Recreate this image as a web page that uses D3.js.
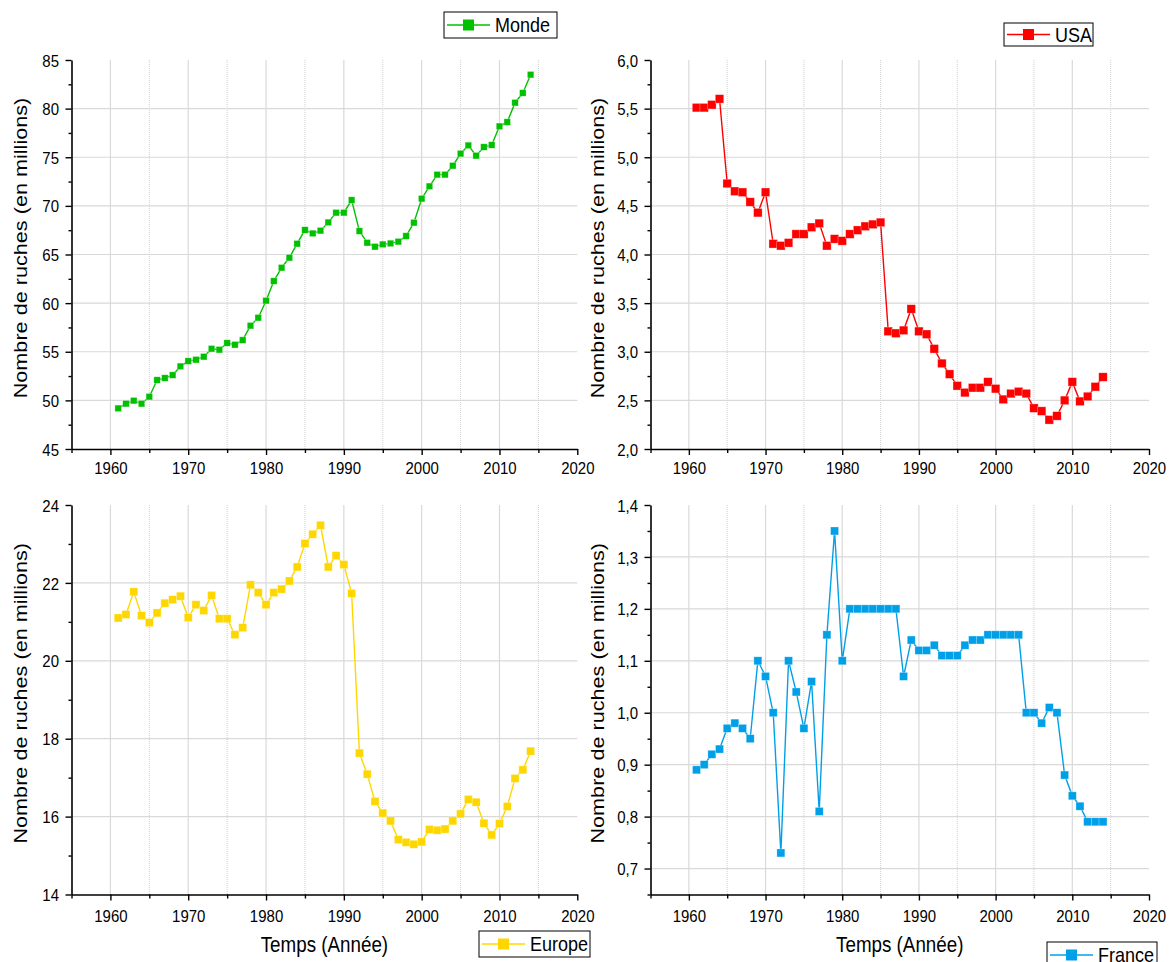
<!DOCTYPE html>
<html><head><meta charset="utf-8">
<script src="https://cdn.jsdelivr.net/npm/d3@7"></script>
<style>body{margin:0;background:#fff;}svg{display:block;font-family:"Liberation Sans",Arial,sans-serif;}</style>
</head><body>
<svg id="c" width="1174" height="962"></svg>
<script>
const years = d3.range(1961, 2015);
const monde = [49.18,49.66,49.97,49.66,50.38,52.09,52.30,52.60,53.50,54.04,54.18,54.49,55.31,55.21,55.90,55.72,56.20,57.68,58.50,60.25,62.27,63.64,64.67,66.11,67.52,67.17,67.45,68.30,69.30,69.30,70.60,67.41,66.21,65.80,66.04,66.14,66.32,66.90,68.27,70.74,72.01,73.21,73.21,74.13,75.37,76.22,75.16,76.05,76.26,78.18,78.62,80.61,81.61,83.49];
const usa = [5.51,5.51,5.54,5.60,4.73,4.65,4.64,4.54,4.43,4.64,4.11,4.09,4.12,4.21,4.21,4.28,4.32,4.09,4.16,4.14,4.21,4.25,4.29,4.31,4.33,3.21,3.19,3.22,3.44,3.21,3.18,3.03,2.88,2.77,2.65,2.58,2.63,2.63,2.69,2.62,2.51,2.57,2.59,2.57,2.42,2.39,2.30,2.34,2.50,2.69,2.49,2.54,2.64,2.74];
const europe = [21.10,21.19,21.77,21.16,20.98,21.23,21.48,21.57,21.66,21.11,21.44,21.29,21.68,21.08,21.08,20.67,20.85,21.95,21.75,21.44,21.75,21.84,22.05,22.41,23.01,23.25,23.48,22.41,22.70,22.47,21.73,17.63,17.09,16.39,16.09,15.89,15.41,15.34,15.29,15.35,15.67,15.65,15.68,15.89,16.07,16.44,16.37,15.83,15.53,15.82,16.26,16.98,17.20,17.68];
const france = [0.89,0.90,0.92,0.93,0.97,0.98,0.97,0.95,1.10,1.07,1.00,0.73,1.10,1.04,0.97,1.06,0.81,1.15,1.35,1.10,1.20,1.20,1.20,1.20,1.20,1.20,1.20,1.07,1.14,1.12,1.12,1.13,1.11,1.11,1.11,1.13,1.14,1.14,1.15,1.15,1.15,1.15,1.15,1.00,1.00,0.98,1.01,1.00,0.88,0.84,0.82,0.79,0.79,0.79];

const xTicks = [1960,1970,1980,1990,2000,2010,2020];
const xMinor = [1955,1965,1975,1985,1995,2005,2015];
const mondeTicks = [45,50,55,60,65,70,75,80,85];
const usaTicks = [2.0,2.5,3.0,3.5,4.0,4.5,5.0,5.5,6.0];
const europeTicks = [14,16,18,20,22,24];
const franceTicks = [0.7,0.8,0.9,1.0,1.1,1.2,1.3,1.4];

const yTitle = "Nombre de ruches (en millions)";
const xTitle = "Temps (Année)";

const FONT = "Liberation Sans, Arial, sans-serif";
const SY = 1.15;   // vertical text stretch seen in the reference
const svg = d3.select("#c");
const fr = d3.formatLocale({decimal:",", thousands:" ", grouping:[3], currency:["","€"]});

const panels = [
  {name:"Monde", data:monde, color:"#00c000", x0:71.5, x1:577.3, y0:60, y1:449, dom:[45,85], ticks:mondeTicks, fmt:d3.format("d"), ms:6.5,
   ytx:20.5, xt:false, leg:[444,12,557,38]},
  {name:"USA", data:usa, color:"#ff0000", x0:650.5, x1:1149, y0:60, y1:449, dom:[2,6], ticks:usaTicks, fmt:fr.format(".1f"), ms:8.5,
   ytx:597.5, xt:false, leg:[1004,23,1093,46]},
  {name:"Europe", data:europe, color:"#ffd700", x0:71.5, x1:577.3, y0:505, y1:894.5, dom:[14,24], ticks:europeTicks, fmt:d3.format("d"), ms:8,
   ytx:20.5, xt:true, leg:[479,931,590,957]},
  {name:"France", data:france, color:"#00a0e8", x0:650.5, x1:1149, y0:505, y1:894.5, dom:[0.65,1.4], ticks:franceTicks, fmt:fr.format(".1f"), ms:8,
   ytx:597.5, xt:true, leg:[1047,942,1157,968]}
];

panels.forEach(p => {
  const x = d3.scaleLinear().domain([1955,2020]).range([p.x0,p.x1]);
  const y = d3.scaleLinear().domain(p.dom).range([p.y1,p.y0]);
  const g = svg.append("g");
  // grid
  g.selectAll(".vg").data(xTicks.filter(t=>t<2020)).join("line")
    .attr("x1",d=>x(d)).attr("x2",d=>x(d)).attr("y1",p.y0).attr("y2",p.y1)
    .attr("stroke","#d9d9d9").attr("stroke-width",1.2);
  g.selectAll(".vm").data(xMinor.filter(t=>t>1955)).join("line")
    .attr("x1",d=>x(d)).attr("x2",d=>x(d)).attr("y1",p.y0).attr("y2",p.y1)
    .attr("stroke","#d0d0d0").attr("stroke-width",1).attr("stroke-dasharray","1,1");
  const hg = p.ticks.filter(t => y(t) > p.y0+2 && y(t) < p.y1-2);
  g.selectAll(".hg").data(hg).join("line")
    .attr("x1",p.x0).attr("x2",p.x1).attr("y1",d=>y(d)).attr("y2",d=>y(d))
    .attr("stroke","#d9d9d9").attr("stroke-width",1.2);

  // axes
  const minorY = [];
  for (let i=0;i<p.ticks.length-1;i++) minorY.push((p.ticks[i]+p.ticks[i+1])/2);
  if (p.name==="France") minorY.unshift(0.65);
  const yAx = g.append("g").attr("transform",`translate(${p.x0},0)`)
    .call(d3.axisLeft(y).tickValues(p.ticks).tickFormat(p.fmt).tickSize(6).tickSizeOuter(0));
  g.append("g").attr("transform",`translate(${p.x0},0)`)
    .call(d3.axisLeft(y).tickValues(minorY).tickFormat("").tickSize(3).tickSizeOuter(0))
    .call(a=>a.select(".domain").remove());
  const xAx = g.append("g").attr("transform",`translate(0,${p.y1})`)
    .call(d3.axisBottom(x).tickValues(xTicks).tickFormat(d3.format("d")).tickSize(6).tickSizeOuter(0));
  g.append("g").attr("transform",`translate(0,${p.y1})`)
    .call(d3.axisBottom(x).tickValues(xMinor).tickFormat("").tickSize(4).tickSizeOuter(0))
    .call(a=>a.select(".domain").remove());
  g.selectAll(".domain").attr("stroke","#000").attr("stroke-width",1.6);
  g.selectAll(".tick line").attr("stroke","#000").attr("stroke-width",1.4);
  yAx.selectAll("text").attr("font-size",15).attr("fill","#000").attr("font-family",FONT)
    .attr("x",null).attr("y",null).attr("dy",null).attr("text-anchor","end")
    .attr("transform",`translate(-12.5,6.1) scale(1,${SY})`);
  const xoff = p.xt ? 27 : 25;
  xAx.selectAll("text").attr("font-size",15).attr("fill","#000").attr("font-family",FONT)
    .attr("x",null).attr("y",null).attr("dy",null).attr("text-anchor","middle")
    .attr("transform",`translate(0,${xoff}) scale(1,${SY})`);

  // y title
  const cyT = (p.y0+p.y1)/2 - 6.5;
  svg.append("text").attr("transform",`translate(${p.ytx},${cyT}) scale(1,1.17) rotate(-90)`)
    .attr("text-anchor","middle").attr("dy","0.35em").attr("font-size",18.5).attr("font-family",FONT)
    .attr("fill","#000").text(yTitle);
  if (p.xt) {
    svg.append("text").attr("transform",`translate(${(p.x0+p.x1)/2},951.5) scale(1,${SY})`).attr("text-anchor","middle")
      .attr("font-size",18.8).attr("font-family",FONT).attr("fill","#000").text(xTitle);
  }

  // line + markers
  const line = d3.line().x((d,i)=>x(years[i])).y(d=>y(d));
  g.append("path").datum(p.data).attr("d",line).attr("fill","none").attr("stroke",p.color).attr("stroke-width",1.4);
  g.selectAll(".m").data(p.data).join("rect")
    .attr("x",(d,i)=>x(years[i])-p.ms/2).attr("y",d=>y(d)-p.ms/2)
    .attr("width",p.ms).attr("height",p.ms).attr("fill",p.color)
    .attr("stroke","#ffffff").attr("stroke-opacity",0.5).attr("stroke-width",0.6);

  // legend
  const [lx0,ly0,lx1,ly1] = p.leg;
  const lg = svg.append("g");
  lg.append("rect").attr("x",lx0).attr("y",ly0).attr("width",lx1-lx0).attr("height",ly1-ly0)
    .attr("fill","#fff").attr("stroke","#000").attr("stroke-width",1);
  const cy = (ly0+ly1)/2;
  lg.append("line").attr("x1",lx0+3).attr("x2",lx0+46).attr("y1",cy).attr("y2",cy)
    .attr("stroke",p.color).attr("stroke-width",1.4);
  lg.append("rect").attr("x",lx0+24.5-5.5).attr("y",cy-5.5).attr("width",11).attr("height",11).attr("fill",p.color);
  lg.append("text").attr("transform",`translate(${lx0+51},${cy+7.4}) scale(1,${SY})`)
    .attr("font-size",18).attr("font-family",FONT).attr("fill","#000").text(p.name);
});
</script>
</body></html>
